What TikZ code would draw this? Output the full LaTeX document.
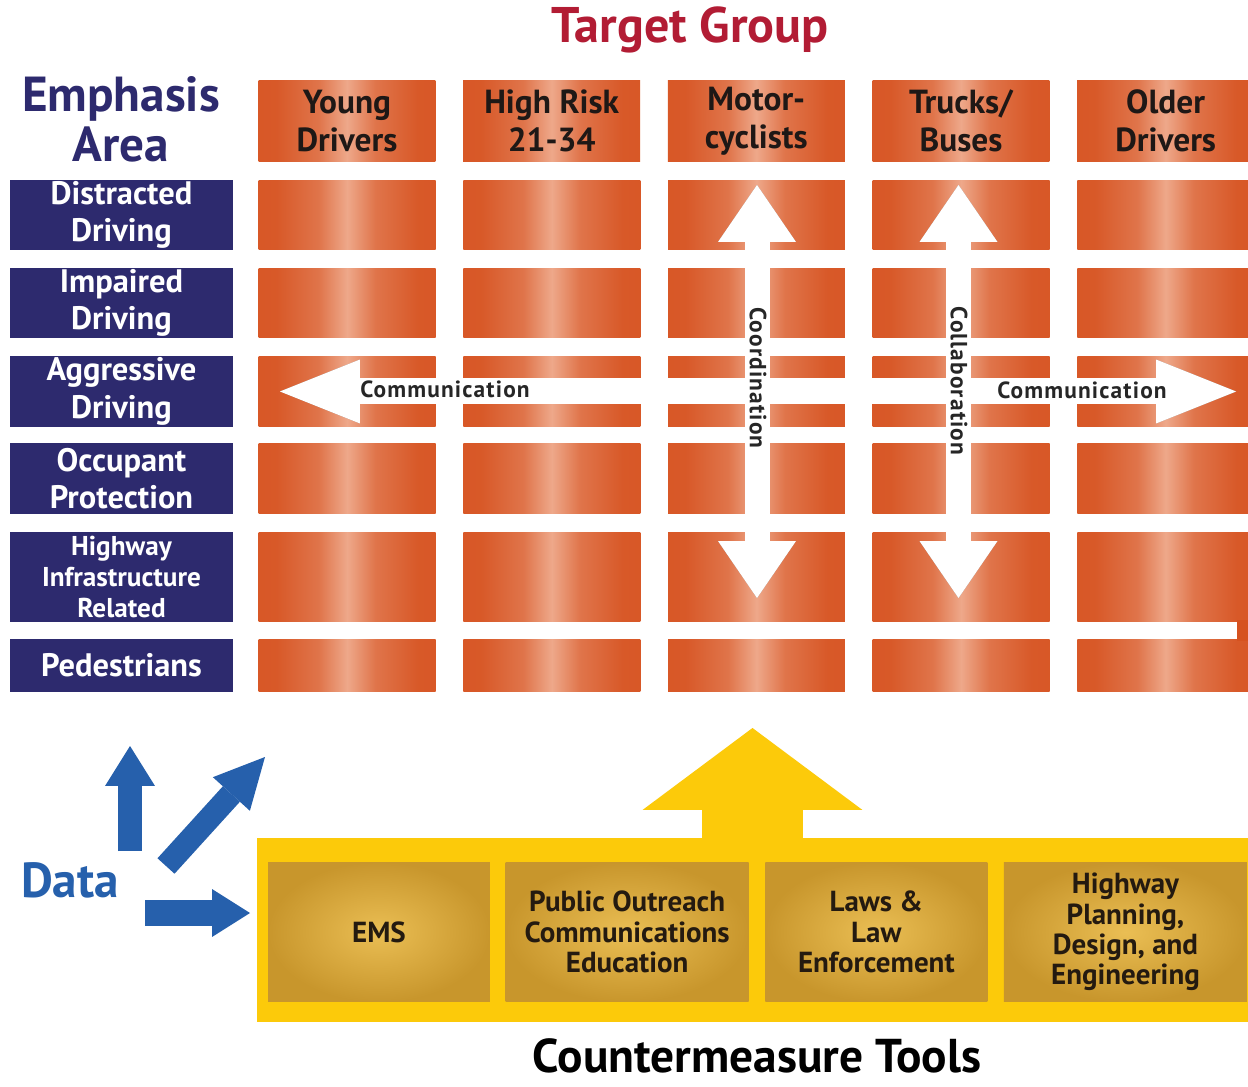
\documentclass[tikz,border=0pt]{standalone}
\usepackage{fontspec}
\setmainfont{PT Sans}
\usetikzlibrary{positioning,arrows.meta}

\definecolor{cellorange}{RGB}{214,82,32}
\definecolor{cellglow}{RGB}{238,168,138}
\definecolor{cellink}{RGB}{30,24,22}
\definecolor{areanavy}{RGB}{45,42,110}
\definecolor{titlered}{RGB}{178,28,52}
\definecolor{datablue}{RGB}{38,96,172}
\definecolor{toolyellow}{RGB}{252,202,10}
\definecolor{goldglow}{RGB}{234,190,84}
\definecolor{goldedge}{RGB}{200,150,44}
\definecolor{toolink}{RGB}{36,26,16}

\pgfdeclarehorizontalshading{cellshade}{100bp}{color(0bp)=(cellorange); color(30bp)=(cellorange!92!cellglow);
  color(42bp)=(cellorange!60!cellglow); color(50bp)=(cellglow); color(58bp)=(cellorange!60!cellglow);
  color(70bp)=(cellorange!92!cellglow); color(100bp)=(cellorange)}

\begin{document}
\begin{tikzpicture}[x=0.02cm, y=-0.02cm, node distance=0.54cm]
\tikzstyle{cell} = [rectangle, minimum width=3.54cm, minimum height=1.4cm, inner sep=0pt, shading=cellshade,
                    text=cellink, align=center, font=\bfseries\fontsize{19}{21.6}\selectfont]
\tikzstyle{area} = [rectangle, fill=areanavy, minimum width=4.46cm, minimum height=1.4cm, inner sep=0pt,
                    text=white, align=center, font=\bfseries\fontsize{18.5}{21.2}\selectfont]
\tikzstyle{tool} = [rectangle, minimum width=4.44cm, minimum height=2.8cm, inner sep=0pt,
                    inner color=goldglow, outer color=goldedge,
                    text=toolink, align=center, font=\bfseries\fontsize{16.5}{17.2}\selectfont]
\tikzstyle{flowlabel} = [inner sep=0pt, text=black!85,
                         font=\bfseries\fontsize{13.3}{15}\selectfont\addfontfeatures{LetterSpace=5}]
\tikzstyle{commarrow} = [draw=white, line width=0.52cm,
                         {Triangle[length=1.6cm, width=1.28cm, line width=0pt]}-{Triangle[length=1.6cm, width=1.28cm, line width=0pt]}]
\tikzstyle{vertarrow} = [draw=white, line width=0.5cm,
                         {Triangle[length=1.14cm, width=1.56cm, line width=0pt]}-{Triangle[length=1.14cm, width=1.56cm, line width=0pt]}]
\tikzstyle{shadow} = [draw=black!40, xshift=-0.04cm, yshift=-0.04cm]
\tikzstyle{dataarrow} = [draw=datablue, line width=0.48cm, -{Triangle[length=0.8cm, width=1.0cm, line width=0pt]}]

\fill[white, use as bounding box] (0,0) rectangle (1248,1087);

% titles
\node[text=titlered, font=\bfseries\fontsize{28.5}{32}\selectfont] (target) at (690,30) {Target Group};
\node[text=areanavy, align=center, font=\bfseries\fontsize{28}{28.5}\selectfont] (emphasis) at (121,119) {Emphasis\\Area};

% target groups
\node[cell, minimum height=1.64cm] (young) at (347,121) {Young\\Drivers};
\node[cell, minimum height=1.64cm, right=of young] (risk) {High Risk\\21-34};
\node[cell, minimum height=1.64cm, right=of risk] (moto) {Motor-\\cyclists};
\node[cell, minimum height=1.64cm, right=of moto] (trucks) {Trucks/\\Buses};
\node[cell, minimum height=1.64cm, right=of trucks] (older) {Older\\Drivers};

% emphasis areas
\node[area] (distracted) at (121.5,215) {Distracted\\Driving};
\node[area] (impaired) at (121.5,303) {Impaired\\Driving};
\node[area, minimum height=1.42cm] (aggressive) at (121.5,391.5) {Aggressive\\Driving};
\node[area, minimum height=1.42cm] (occupant) at (121.5,478.5) {Occupant\\Protection};
\node[area, minimum height=1.8cm, font=\bfseries\fontsize{15.5}{17.6}\selectfont] (highway) at (121.5,577) {Highway\\Infrastructure\\Related};
\node[area, minimum height=1.06cm] (pedestrians) at (121.5,665.5) {Pedestrians};

% grid
\node[cell, right=0.5cm of distracted] (distracted1) {};
\node[cell, right=of distracted1] (distracted2) {};
\node[cell, right=of distracted2] (distracted3) {};
\node[cell, right=of distracted3] (distracted4) {};
\node[cell, right=of distracted4] (distracted5) {};

\node[cell, right=0.5cm of impaired] (impaired1) {};
\node[cell, right=of impaired1] (impaired2) {};
\node[cell, right=of impaired2] (impaired3) {};
\node[cell, right=of impaired3] (impaired4) {};
\node[cell, right=of impaired4] (impaired5) {};

\node[cell, minimum height=1.42cm, right=0.5cm of aggressive] (aggressive1) {};
\node[cell, minimum height=1.42cm, right=of aggressive1] (aggressive2) {};
\node[cell, minimum height=1.42cm, right=of aggressive2] (aggressive3) {};
\node[cell, minimum height=1.42cm, right=of aggressive3] (aggressive4) {};
\node[cell, minimum height=1.42cm, right=of aggressive4] (aggressive5) {};

\node[cell, minimum height=1.42cm, right=0.5cm of occupant] (occupant1) {};
\node[cell, minimum height=1.42cm, right=of occupant1] (occupant2) {};
\node[cell, minimum height=1.42cm, right=of occupant2] (occupant3) {};
\node[cell, minimum height=1.42cm, right=of occupant3] (occupant4) {};
\node[cell, minimum height=1.42cm, right=of occupant4] (occupant5) {};

\node[cell, minimum height=1.8cm, right=0.5cm of highway] (highway1) {};
\node[cell, minimum height=1.8cm, right=of highway1] (highway2) {};
\node[cell, minimum height=1.8cm, right=of highway2] (highway3) {};
\node[cell, minimum height=1.8cm, right=of highway3] (highway4) {};
\node[cell, minimum height=1.8cm, right=of highway4] (highway5) {};

\node[cell, minimum height=1.06cm, right=0.5cm of pedestrians] (pedestrians1) {};
\node[cell, minimum height=1.06cm, right=of pedestrians1] (pedestrians2) {};
\node[cell, minimum height=1.06cm, right=of pedestrians2] (pedestrians3) {};
\node[cell, minimum height=1.06cm, right=of pedestrians3] (pedestrians4) {};
\node[cell, minimum height=1.06cm, right=of pedestrians4] (pedestrians5) {};
\fill[cellorange] (1237,620) rectangle (1248,641);

% white arrows across the grid
\coordinate (commleft) at (280,391.5);
\coordinate (commright) at (1236,391.5);
\coordinate (coordtop) at (757,185);
\coordinate (coordbottom) at (757,598);
\coordinate (collabtop) at (958.5,185);
\coordinate (collabbottom) at (958.5,598);
\draw[commarrow, shadow] (commleft) -- (commright);
\draw[vertarrow, shadow] (coordtop) -- (coordbottom);
\draw[vertarrow, shadow] (collabtop) -- (collabbottom);
\draw[commarrow] (commleft) -- (commright);
\draw[vertarrow] (coordtop) -- (coordbottom);
\draw[vertarrow] (collabtop) -- (collabbottom);
\node[flowlabel] (commwest) at (445,389) {Communication};
\node[flowlabel] (commeast) at (1082,390) {Communication};
\node[flowlabel, rotate=-90] (coordination) at (758,378) {Coordination};
\node[flowlabel, rotate=-90] (collaboration) at (959,381) {Collaboration};

% countermeasure tools
\node[rectangle, fill=toolyellow, minimum width=19.82cm, minimum height=3.68cm] (toolframe) at (752.5,930) {};
\coordinate (gridtip) at (752.5,728);
\draw[draw=toolyellow, line width=2.04cm, -{Triangle[length=1.64cm, width=4.4cm, line width=0pt]}] (toolframe.north) -- (gridtip);
\node[tool] (ems) at (379,932) {EMS};
\node[tool, minimum width=4.86cm, right=0.3cm of ems] (outreach) {Public Outreach\\Communications\\Education};
\node[tool, right=0.32cm of outreach] (laws) {Laws \&\\Law\\Enforcement};
\node[tool, minimum width=4.86cm, right=0.32cm of laws] (planning) {Highway\\Planning,\\Design, and\\Engineering};
\node[anchor=base, inner sep=0pt, text=black, font=\bfseries\fontsize{27}{30}\selectfont] (countermeasure) at (757,1072) {Countermeasure Tools};

% data
\node[text=datablue, font=\bfseries\fontsize{28}{30}\selectfont] (data) at (70,880) {Data};
\coordinate (dataup) at (130,851);
\coordinate (datauptip) at (130,746);
\coordinate (datadiag) at (166,866);
\coordinate (datadiagtip) at (265,757);
\coordinate (dataright) at (145,913);
\coordinate (datarighttip) at (250,913);
\draw[dataarrow] (dataup) -- (datauptip);
\draw[dataarrow, line width=0.46cm, -{Triangle[length=1.0cm, width=1.0cm, line width=0pt]}] (datadiag) -- (datadiagtip);
\draw[dataarrow, line width=0.54cm, -{Triangle[length=0.76cm, width=0.96cm, line width=0pt]}] (dataright) -- (datarighttip);
\end{tikzpicture}
\end{document}
